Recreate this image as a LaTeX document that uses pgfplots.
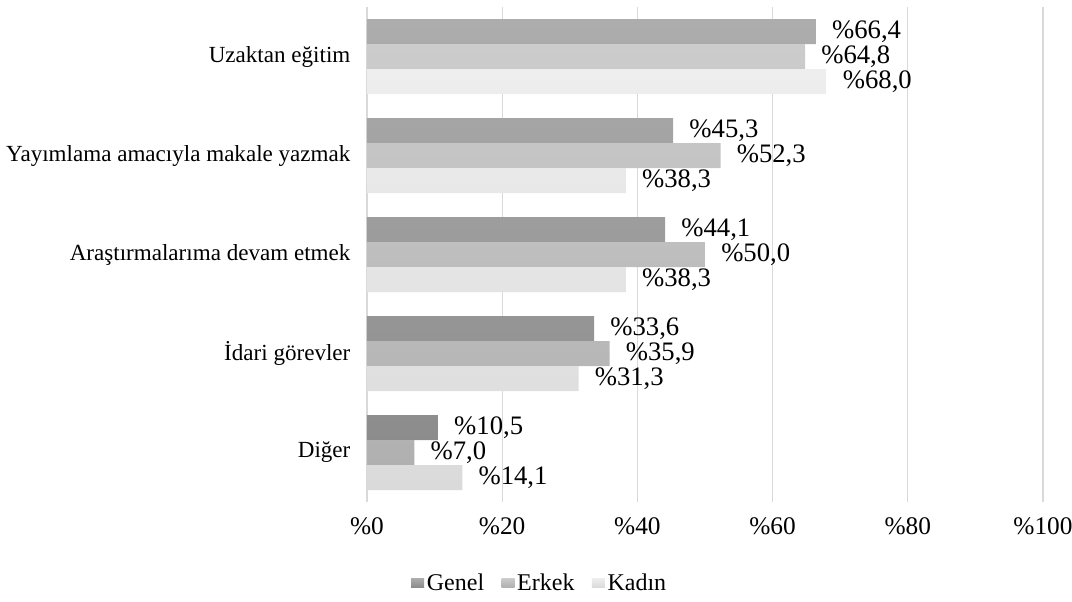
\documentclass[border=0pt]{standalone}
\usepackage{fontspec}
\setmainfont{Liberation Serif}
\usepackage{pgfplots}
\pgfplotsset{compat=1.18}
\definecolor{genelT}{HTML}{ADADAD}
\definecolor{genelB}{HTML}{8C8C8C}
\definecolor{erkekT}{HTML}{CCCCCC}
\definecolor{erkekB}{HTML}{B0B0B0}
\definecolor{kadinT}{HTML}{EEEEEE}
\definecolor{kadinB}{HTML}{DADADA}
\definecolor{gridc}{HTML}{D9D9D9}
\begin{document}
\begin{tikzpicture}
\begin{axis}[
  scale only axis,
  width=507pt, height=371.25pt,
  xmin=0, xmax=100, ymin=-0.5, ymax=4.5,
  xbar, bar width=18.75pt,
  xtick={0,20,40,60,80,100},
  xticklabels={\%0,\%20,\%40,\%60,\%80,\%100},
  ytick={0,1,2,3,4},
  yticklabels={Diğer,İdari görevler,Araştırmalarıma devam etmek,Yayımlama amacıyla makale yazmak,Uzaktan eğitim},
  xmajorgrids, major grid style={draw=gridc, line width=0.9pt},
  axis line style={draw=none},
  tick style={draw=none},
  xticklabel style={font=\fontsize{19}{21}\selectfont, anchor=center, yshift=-18pt},
  yticklabel style={font=\fontsize{17.3}{20}\selectfont, anchor=east, inner xsep=0pt, xshift=-8pt},
  point meta=x,
  nodes near coords={\%\pgfmathprintnumber[fixed,fixed zerofill,precision=1,use comma,assume math mode=true]{\pgfplotspointmeta}},
  nodes near coords align={horizontal},
  every node near coord/.append style={anchor=west, inner xsep=0pt, xshift=12pt, font=\fontsize{20}{22}\selectfont, text=black},
  legend style={at={(0.256,-0.164)}, anchor=center, draw=none, fill=none,
    legend columns=-1, font=\fontsize{18}{20}\selectfont,
    /tikz/every even column/.append style={column sep=11pt}},
  legend image code/.code={\path[#1, draw=none] (0pt,-3pt) rectangle (9.75pt,3.75pt);},
]
\addplot[draw=none, top color=genelT, bottom color=genelB, bar shift=18.75pt] coordinates {(10.5,0) (33.6,1) (44.1,2) (45.3,3) (66.4,4)};
\addplot[draw=none, top color=erkekT, bottom color=erkekB, bar shift=0pt] coordinates {(7.0,0) (35.9,1) (50.0,2) (52.3,3) (64.8,4)};
\addplot[draw=none, top color=kadinT, bottom color=kadinB, bar shift=-18.75pt] coordinates {(14.1,0) (31.3,1) (38.3,2) (38.3,3) (68.0,4)};
\legend{Genel,Erkek,Kadın}
\end{axis}
\pgfresetboundingbox
\path[use as bounding box] (-275.25pt,-74.25pt) rectangle (528.75pt,376.5pt);
\end{tikzpicture}
\end{document}
